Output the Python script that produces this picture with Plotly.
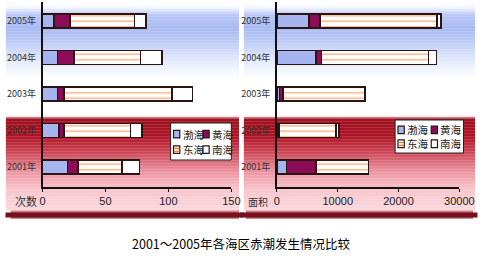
import plotly.graph_objects as go

W, H = 492, 262

years = ["2001年", "2002年", "2003年", "2004年", "2005年"]
series_names = ["渤海", "黄海", "东海", "南海"]

# occurrences (次数)
count_bohai = [20, 13, 12, 12, 9]
count_huanghai = [8, 4, 5, 13, 13]
count_donghai = [35, 53, 86, 53, 51]
count_nanhai = [14, 9, 16, 17, 9]

# area (面积, km²)
area_bohai = [1580, 300, 420, 6400, 5260]
area_huanghai = [4860, 100, 600, 950, 1800]
area_donghai = [8600, 9300, 13450, 17600, 19270]
area_nanhai = [0, 500, 0, 1300, 690]

count_ticks = [0, 50, 100, 150]
count_ticktext = ["0", "50", "100", "150"]
area_ticks = [0, 10000, 20000, 30000]
area_ticktext = ["0", "10000", "20000", "30000"]

title_text = "2001～2005年各海区赤潮发生情况比较"

OUTLINE = "#2a1414"
C_BOHAI = "#a6b4f0"
C_HUANG = "#8c0c55"
C_ORANGE = "#ff6a10"


def px(x):
    return x / W


def py(y):
    return 1 - y / H


fig = go.Figure()


def add_series(xs, axis_x, axis_y):
    specs = [
        (xs[0], dict(color=C_BOHAI)),
        (xs[1], dict(color=C_HUANG)),
        (xs[2], dict(color="white", pattern=dict(shape="-", fgcolor=C_ORANGE,
                                                 bgcolor="white", size=5.5, solidity=0.28))),
        (xs[3], dict(color="white")),
    ]
    for name, (vals, mk) in zip(series_names, specs):
        mk = dict(mk)
        mk["line"] = dict(color=OUTLINE, width=1.6)
        fig.add_trace(go.Bar(
            x=vals, y=years, orientation="h", name=name, marker=mk,
            width=0.38, xaxis=axis_x, yaxis=axis_y, showlegend=False,
        ))


add_series([count_bohai, count_huanghai, count_donghai, count_nanhai], "x", "y")
add_series([area_bohai, area_huanghai, area_donghai, area_nanhai], "x2", "y2")

# ---------- background gradient strips ----------
stops = [
    (0, (255, 255, 255)),
    (7, (248, 250, 255)),
    (15, (185, 198, 246)),
    (28, (168, 186, 242)),
    (40, (186, 200, 246)),
    (60, (226, 233, 252)),
    (78, (255, 255, 255)),
    (116, (255, 255, 255)),
    (119, (160, 18, 32)),
    (136, (172, 20, 38)),
    (152, (205, 70, 86)),
    (172, (236, 150, 162)),
    (190, (248, 198, 205)),
    (210, (250, 216, 220)),
]


def color_at(y):
    for (y0, c0), (y1, c1) in zip(stops[:-1], stops[1:]):
        if y0 <= y <= y1:
            t = 0 if y1 == y0 else (y - y0) / (y1 - y0)
            return tuple(int(round(a + (b - a) * t)) for a, b in zip(c0, c1))
    return (255, 255, 255)


shapes = []
y = 0.0
while y < 210:
    step = 1.5
    c = color_at(y + step / 2)
    if c != (255, 255, 255):
        for x0, x1 in [(3, 245), (250, 490)]:
            shapes.append(dict(type="rect", xref="paper", yref="paper",
                               x0=px(x0), x1=px(x1), y0=py(y + step + 0.3), y1=py(y),
                               fillcolor="rgb(%d,%d,%d)" % c, line=dict(width=0),
                               layer="below"))
    y += step

# dark red band under the axis labels (drawn as thick lines)
band = [(211.5, "rgb(205,120,130)", 2), (214, "rgb(140,25,38)", 3),
        (216.3, "rgb(100,8,18)", 2.5), (218, "rgb(180,100,105)", 1.5)]
for yb, col, wdt in band:
    for x0, x1 in [(8, 245), (252, 488)]:
        shapes.append(dict(type="line", xref="paper", yref="paper",
                           x0=px(x0), x1=px(x1), y0=py(yb), y1=py(yb),
                           line=dict(color=col, width=wdt), layer="above"))

# ---------- manual legends ----------
annotations = []


def legend_box(x0, y0, x1, y1):
    shapes.append(dict(type="rect", xref="paper", yref="paper",
                       x0=px(x0), x1=px(x1), y0=py(y1), y1=py(y0),
                       fillcolor="white", line=dict(color="#222", width=1)))
    cols = [x0 + 3, x0 + (x1 - x0) / 2 + 2]
    rows = [y0 + (y1 - y0) * 0.3, y0 + (y1 - y0) * 0.72]
    fills = [C_BOHAI, C_HUANG, "white", "white"]
    for i, name in enumerate(series_names):
        cx = cols[i % 2]
        cy = rows[i // 2]
        shapes.append(dict(type="rect", xref="paper", yref="paper",
                           x0=px(cx), x1=px(cx + 6.5), y0=py(cy + 3.8), y1=py(cy - 3.8),
                           fillcolor=fills[i], line=dict(color=OUTLINE, width=1.2)))
        if i == 2:
            for ly in (cy - 1.3, cy + 1.6):
                shapes.append(dict(type="line", xref="paper", yref="paper",
                                   x0=px(cx + 0.5), x1=px(cx + 6), y0=py(ly), y1=py(ly),
                                   line=dict(color=C_ORANGE, width=1.2)))
        annotations.append(dict(text=name, xref="paper", yref="paper",
                                x=px(cx + 7.5), y=py(cy), xanchor="left", yanchor="middle",
                                showarrow=False,
                                font=dict(family="Noto Sans CJK SC", size=10.5, color="#222")))


legend_box(174, 123, 237, 160)
legend_box(407, 120, 478, 153)

# band also as annotation backgrounds (robust fallback)
for xc, wd in [(126.5, 237), (370, 236)]:
    annotations.append(dict(text=" ", xref="paper", yref="paper", x=px(xc), y=py(215),
                            xanchor="center", yanchor="middle", showarrow=False,
                            width=wd, height=4, bgcolor="rgb(120,15,28)", borderpad=0,
                            font=dict(size=2)))

annotations.append(dict(text="次数", xref="paper", yref="paper", x=px(24), y=py(201),
                        xanchor="center", yanchor="middle", showarrow=False,
                        font=dict(family="Noto Sans CJK SC", size=11, color="#333")))
annotations.append(dict(text="面积", xref="paper", yref="paper", x=px(265), y=py(201),
                        xanchor="center", yanchor="middle", showarrow=False,
                        font=dict(family="Noto Sans CJK SC", size=10, color="#333")))
annotations.append(dict(text=title_text, xref="paper", yref="paper", x=px(248), y=py(243),
                        xanchor="center", yanchor="middle", showarrow=False,
                        font=dict(family="Noto Sans CJK SC", size=12.5, color="#000")))

ydom = [py(187), py(2)]
axis_common = dict(showgrid=False, zeroline=False, showline=True, linecolor="#111",
                   linewidth=1.5, ticks="outside", ticklen=3, tickcolor="#111",
                   tickfont=dict(family="Liberation Sans", size=11, color="#222"))
yaxis_common = dict(showgrid=False, zeroline=False, showline=True, linecolor="#111",
                    linewidth=1.5, ticks="", type="category",
                    categoryorder="array", categoryarray=years, range=[-0.55, 4.52],
                    domain=ydom, ticklabelstandoff=3,
                    tickfont=dict(family="Noto Sans CJK SC", size=9, color="#333"))

fig.update_layout(
    width=W, height=H, margin=dict(l=0, r=0, t=0, b=0),
    paper_bgcolor="white", plot_bgcolor="rgba(0,0,0,0)",
    barmode="stack", showlegend=False,
    xaxis=dict(domain=[px(41), px(237)], range=[0, 150], tickvals=count_ticks,
               ticktext=count_ticktext, anchor="y", **axis_common),
    xaxis2=dict(domain=[px(284.3), px(473.7)], range=[0, 30000], tickvals=area_ticks,
                ticktext=area_ticktext, anchor="y2", **axis_common),
    yaxis=dict(anchor="x", **yaxis_common),
    yaxis2=dict(anchor="x2", **yaxis_common),
    shapes=shapes, annotations=annotations,
)

fig.write_html("out.html")
